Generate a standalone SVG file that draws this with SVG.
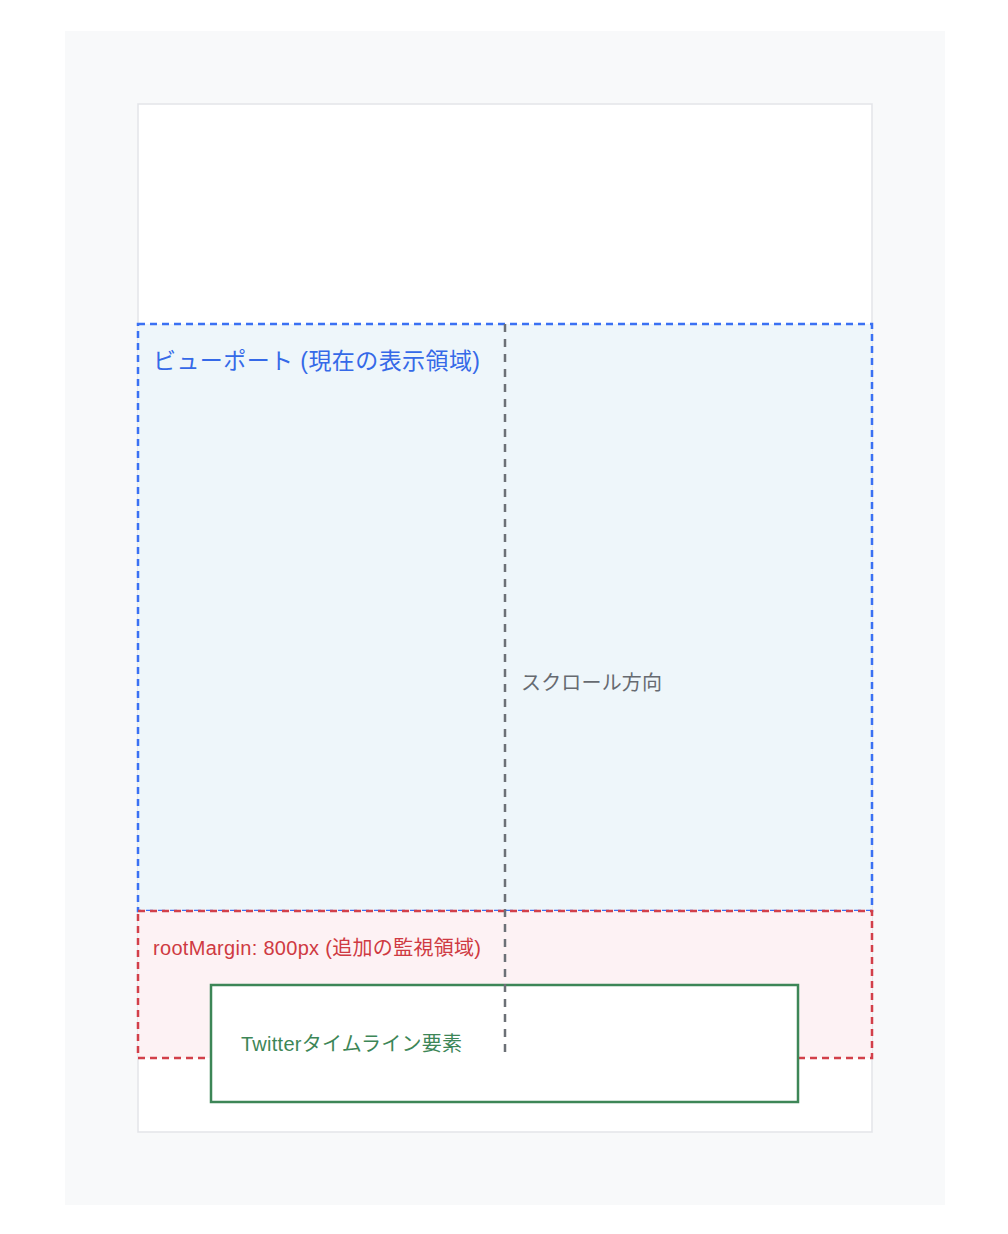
<svg xmlns="http://www.w3.org/2000/svg" width="1008" height="1234" viewBox="0 0 1008 1234">
<style>
.ja{font-family:"Liberation Sans","Noto Sans CJK JP",sans-serif;}
.blue{fill:#eef6fa;stroke:#3b71f3;stroke-width:2.5;stroke-dasharray:7 5;}
.red{fill:#fdf2f4;stroke:#d2404a;stroke-width:2.5;stroke-dasharray:7 5;}
</style>
<rect x="0" y="0" width="1008" height="1234" fill="#ffffff"/>
<rect id="background" x="65" y="31" width="880" height="1174" fill="#f8f9fa"/>
<g id="page">
<rect x="138" y="104" width="734" height="1028" fill="#ffffff" stroke="#e3e5e9" stroke-width="1.5"/>
</g>
<g id="viewport">
<rect class="blue" x="138" y="324" width="734" height="587"/>
<text class="ja" x="153" y="369" font-size="23" fill="#3569e8" textLength="327" lengthAdjust="spacing">ビューポート (現在の表示領域)</text>
</g>
<g id="rootMargin">
<rect class="red" x="138" y="911" width="734" height="147"/>
<text class="ja" x="153" y="955" font-size="20" fill="#cf3a42" textLength="328" lengthAdjust="spacing">rootMargin: 800px (追加の監視領域)</text>
</g>
<g id="twitter">
<rect x="211" y="985" width="587" height="117" fill="#ffffff" stroke="#3d8657" stroke-width="2.5"/>
<text class="ja" x="241" y="1051" font-size="20" fill="#3d8657" textLength="221" lengthAdjust="spacing">Twitterタイムライン要素</text>
</g>
<g id="connectors">
<line x1="505" y1="324" x2="505" y2="1052" stroke="#6c7076" stroke-width="2.5" stroke-dasharray="8 7"/>
</g>
<g id="scroll-label">
<text class="ja" x="521" y="690" font-size="20" fill="#666a70" textLength="141" lengthAdjust="spacing">スクロール方向</text>
</g>
</svg>
